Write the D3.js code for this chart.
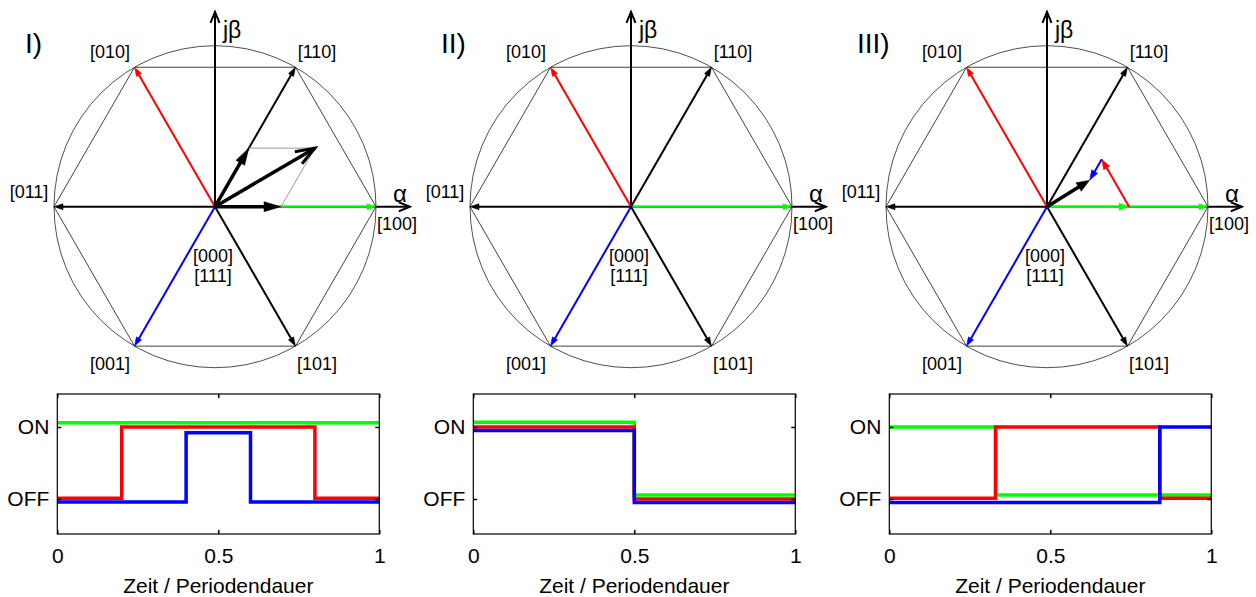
<!DOCTYPE html>
<html>
<head>
<meta charset="utf-8">
<script src="https://cdn.jsdelivr.net/npm/d3@7"></script>
<style>
body { margin: 0; background: #fff; }
text { font-family: "Liberation Sans", Arial, sans-serif; fill: #000; }
</style>
</head>
<body>
<svg id="chart" width="1256" height="597"></svg>
<script>
// switching states of the inverter, counterclockwise from the alpha axis
var stateLabels = ["[100]", "[110]", "[010]", "[011]", "[001]", "[101]"];
var stateAngles = [0, 60, 120, 180, 240, 300];
var zeroLabels = ["[000]", "[111]"];
var panelNames = ["I)", "II)", "III)"];

// reference vector parts: [state index, length relative to hexagon radius]
var refParts = [
    [[0, 0.41], [1, 0.42]],
    [],
    [[0, 0.51], [2, 0.34], [4, 0.15]]
];

// switching signals of phases a (green), b (red), c (blue): switch times and levels
var switchT = [
    [[0], [0, 0.2, 0.8], [0, 0.4, 0.6]],
    [[0, 0.5], [0, 0.5], [0, 0.5]],
    [[0, 0.33], [0, 0.33, 0.84], [0, 0.84]]
];
var switchV = [
    [[1.06], [0.01, 1, 0.01], [-0.04, 0.92, -0.04]],
    [[1.065, 0.055], [1, 0], [0.95, -0.05]],
    [[1, 0.055], [0.01, 1, 0.01], [-0.05, 1]]
];
var xTicks = [0, 0.5, 1];
var yTicks = [0, 1];
var yTickLabels = ["OFF", "ON"];
var xTitle = "Zeit / Periodendauer";

var green = "#00ff00", red = "#ff0000", blue = "#0000ff";
var phaseColors = [green, red, blue];
var stateColors = [green, "#000", red, "#000", blue, "#000"];
// label offsets in px from the centre
var labelOff = [[182, 17], [102, -155], [-105, -155], [-186, -15], [-105, 157], [102, 157]];

var svg = d3.select("#chart");
svg.append("rect").attr("width", 1256).attr("height", 597).attr("fill", "#fff");

var R = 161, cy = 206.7;
var rad = function(a) { return a * Math.PI / 180; };

function filledHead(g, x1, y1, x2, y2, len, hw, color) {
    var a = Math.atan2(y2 - y1, x2 - x1);
    var bx = x2 - len * Math.cos(a), by = y2 - len * Math.sin(a);
    var px = -Math.sin(a) * hw, py = Math.cos(a) * hw;
    g.append("path")
        .attr("d", "M" + x2 + "," + y2 + "L" + (bx + px) + "," + (by + py) + "L" + (bx - px) + "," + (by - py) + "Z")
        .attr("fill", color).attr("stroke", color).attr("stroke-width", 0.5);
}

function vHead(g, x1, y1, x2, y2, len, hw, color, sw) {
    var a = Math.atan2(y2 - y1, x2 - x1);
    var bx = x2 - len * Math.cos(a), by = y2 - len * Math.sin(a);
    var px = -Math.sin(a) * hw, py = Math.cos(a) * hw;
    g.append("path")
        .attr("d", "M" + (bx + px) + "," + (by + py) + "L" + x2 + "," + y2 + "L" + (bx - px) + "," + (by - py))
        .attr("fill", "none").attr("stroke", color).attr("stroke-width", sw)
        .attr("stroke-linejoin", "miter");
}

function arrow(g, x1, y1, x2, y2, o) {
    var a = Math.atan2(y2 - y1, x2 - x1);
    var cut = o.open ? 0 : o.len * 0.7;
    g.append("line")
        .attr("x1", x1).attr("y1", y1)
        .attr("x2", x2 - cut * Math.cos(a)).attr("y2", y2 - cut * Math.sin(a))
        .attr("stroke", o.color).attr("stroke-width", o.sw);
    if (o.open) vHead(g, x1, y1, x2, y2, o.len, o.hw, o.color, o.hsw || o.sw);
    else filledHead(g, x1, y1, x2, y2, o.len, o.hw, o.color);
}

panelNames.forEach(function(name, p) {
    var cx = 215 + 416 * p;
    var g = svg.append("g");
    var x = d3.scaleLinear().domain([-1, 1]).range([cx - R, cx + R]);
    var y = d3.scaleLinear().domain([-1, 1]).range([cy + R, cy - R]);

    // circle and hexagon
    g.append("circle").attr("cx", x(0)).attr("cy", y(0)).attr("r", x(1) - x(0))
        .attr("fill", "none").attr("stroke", "#222").attr("stroke-width", 0.8);
    var hex = stateAngles.map(function(a) { return [x(Math.cos(rad(a))), y(Math.sin(rad(a)))]; });
    g.append("path").attr("d", d3.line()(hex) + "Z")
        .attr("fill", "none").attr("stroke", "#111").attr("stroke-width", 0.8);

    // axes
    arrow(g, x(0), y(0), x(0), y(1.21), {color: "#000", sw: 2, len: 11, hw: 4.5, open: true});
    arrow(g, x(0), y(0), x(1.21), y(0), {color: "#000", sw: 2, len: 11, hw: 4.5, open: true});

    // state vectors
    stateAngles.forEach(function(a, i) {
        arrow(g, x(0), y(0), x(Math.cos(rad(a))), y(Math.sin(rad(a))),
            {color: stateColors[i], sw: 2, len: 9, hw: 3});
        g.append("text")
            .attr("x", cx + labelOff[i][0]).attr("y", cy + labelOff[i][1])
            .attr("text-anchor", "middle").attr("dominant-baseline", "central")
            .attr("font-size", 18).text(stateLabels[i]);
    });
    zeroLabels.forEach(function(t, i) {
        g.append("text").attr("x", cx - 2).attr("y", cy + 49 + 20 * i)
            .attr("text-anchor", "middle").attr("dominant-baseline", "central")
            .attr("font-size", 18).text(t);
    });
    g.append("text").attr("x", cx + 8).attr("y", cy - 177)
        .attr("dominant-baseline", "central").attr("font-size", 23).text("jβ");
    g.append("text").attr("x", cx + 185).attr("y", cy - 13)
        .attr("text-anchor", "middle").attr("dominant-baseline", "central")
        .attr("font-size", 24).text("α");
    g.append("text").attr("x", cx - 190).attr("y", cy - 163)
        .attr("dominant-baseline", "central").attr("font-size", 28).text(name);

    // reference vector
    var parts = refParts[p];
    if (parts.length) {
        var sx = 0, sy = 0;
        parts.forEach(function(d) {
            sx += d[1] * Math.cos(rad(stateAngles[d[0]]));
            sy += d[1] * Math.sin(rad(stateAngles[d[0]]));
        });
        if (p === 0) {
            // parallelogram: both parts from the origin
            parts.forEach(function(d) {
                var ex = d[1] * Math.cos(rad(stateAngles[d[0]])), ey = d[1] * Math.sin(rad(stateAngles[d[0]]));
                g.append("line").attr("x1", x(ex)).attr("y1", y(ey)).attr("x2", x(sx)).attr("y2", y(sy))
                    .attr("stroke", "#999").attr("stroke-width", 1);
            });
            parts.forEach(function(d) {
                var ex = d[1] * Math.cos(rad(stateAngles[d[0]])), ey = d[1] * Math.sin(rad(stateAngles[d[0]]));
                arrow(g, x(0), y(0), x(ex), y(ey), {color: "#000", sw: 3.5, len: 17, hw: 5});
            });
            arrow(g, x(0), y(0), x(sx), y(sy), {color: "#000", sw: 3.5, len: 19, hw: 7, open: true, hsw: 3});
        } else {
            // parts chained head to tail
            var px = 0, py = 0;
            parts.forEach(function(d) {
                var ex = px + d[1] * Math.cos(rad(stateAngles[d[0]])), ey = py + d[1] * Math.sin(rad(stateAngles[d[0]]));
                arrow(g, x(px), y(py), x(ex), y(ey), {color: stateColors[d[0]], sw: 2, len: 10, hw: 3.5});
                px = ex; py = ey;
            });
            arrow(g, x(0), y(0), x(sx), y(sy), {color: "#000", sw: 3.5, len: 13, hw: 5});
        }
    }

    // switching signals
    var bx = cx - 157.7, bw = 322;
    var tx = d3.scaleLinear().domain([0, 1]).range([bx, bx + bw]);
    var ty = d3.scaleLinear().domain([-0.486, 1.458]).range([534, 394]);
    var t = svg.append("g");

    var line = d3.line().x(function(d) { return tx(d[0]); }).y(function(d) { return ty(d[1]); })
        .curve(d3.curveStepAfter);
    phaseColors.forEach(function(c, k) {
        var pts = switchT[p][k].map(function(s, j) { return [s, switchV[p][k][j]]; });
        pts.push([1, switchV[p][k][switchV[p][k].length - 1]]);
        t.append("path").attr("d", line(pts))
            .attr("fill", "none").attr("stroke", c).attr("stroke-width", 3.5);
    });

    t.append("rect").attr("x", tx(0)).attr("y", ty(1.458)).attr("width", bw).attr("height", ty(-0.486) - ty(1.458))
        .attr("fill", "none").attr("stroke", "#000").attr("stroke-width", 1.2);

    var axes = [
        [d3.axisBottom(tx).tickValues(xTicks).tickFormat(d3.format("")), 0, 534],
        [d3.axisTop(tx).tickValues(xTicks).tickFormat(""), 0, 394],
        [d3.axisLeft(ty).tickValues(yTicks).tickFormat(function(d, i) { return yTickLabels[i]; }), bx, 0],
        [d3.axisRight(ty).tickValues(yTicks).tickFormat(""), bx + bw, 0]
    ];
    axes.forEach(function(a, i) {
        var ag = t.append("g").attr("transform", "translate(" + a[1] + "," + a[2] + ")")
            .call(a[0].tickSizeInner(-4).tickSizeOuter(0).tickPadding(i === 0 ? 14 : 8));
        ag.select(".domain").remove();
        ag.selectAll("line").attr("stroke", "#000").attr("stroke-width", 1.5);
        ag.selectAll("text").attr("font-size", 21)
            .attr("font-family", "'Liberation Sans', Arial, sans-serif");
    });

    t.append("text").attr("x", tx(0.5)).attr("y", 593)
        .attr("text-anchor", "middle").attr("font-size", 21).text(xTitle);
});
</script>
</body>
</html>
